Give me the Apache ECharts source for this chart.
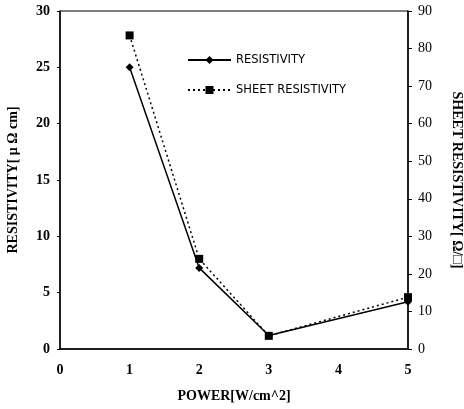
<!DOCTYPE html>
<html>
<head>
<meta charset="utf-8">
<script src="https://cdn.jsdelivr.net/npm/echarts@6/dist/echarts.min.js"></script>
<style>
  html, body { margin: 0; padding: 0; background: #fff; }
  #chart { width: 464px; height: 409px; }
</style>
</head>
<body>
<div id="chart"></div>
<script>
  // 数据
  var powers = [1, 2, 3, 5];
  var resistivity = [25.0, 7.2, 1.2, 4.2];
  var sheetResistivity = [83.5, 24.0, 3.5, 13.8];

  var leftTicks = [0, 5, 10, 15, 20, 25, 30];
  var rightTicks = [0, 10, 20, 30, 40, 50, 60, 70, 80, 90];

  var fontFam = '"Liberation Serif", "DejaVu Serif", serif';

  function pairs(xs, ys) {
    return xs.map(function (x, i) { return [x, ys[i]]; });
  }

  var chart = echarts.init(document.getElementById('chart'));
  chart.setOption({
    animation: false,
    backgroundColor: '#fff',
    grid: {
      left: 60,
      right: 56,
      top: 11,
      bottom: 60,
      outerBoundsMode: 'none',
      show: true,
      borderColor: '#000',
      borderWidth: 1
    },
    legend: {
      left: 187,
      top: 54,
      padding: 0,
      orient: 'vertical',
      itemWidth: 43,
      itemHeight: 10,
      itemGap: 18,
      textStyle: {
        color: '#000',
        fontFamily: '"DejaVu Sans", sans-serif',
        fontSize: 11.5
      },
      data: ['RESISTIVITY', 'SHEET RESISTIVITY']
    },
    xAxis: {
      type: 'value',
      min: 0,
      max: 5,
      interval: 1,
      name: 'POWER[W/cm^2]',
      nameLocation: 'middle',
      nameGap: 40,
      nameTextStyle: { color: '#000', fontFamily: fontFam, fontSize: 14, fontWeight: 'bold' },
      axisLine: { lineStyle: { color: '#000', width: 1.5 } },
      axisTick: { show: false },
      splitLine: { show: false },
      axisLabel: { color: '#000', fontFamily: fontFam, fontSize: 14, fontWeight: 'bold', margin: 14 }
    },
    yAxis: [{
      type: 'value',
      min: leftTicks[0],
      max: leftTicks[leftTicks.length - 1],
      interval: 5,
      name: 'RESISTIVITY[ μ Ω cm]',
      nameLocation: 'middle',
      nameGap: 40,
      nameRotate: 90,
      nameTextStyle: { color: '#000', fontFamily: fontFam, fontSize: 14, fontWeight: 'bold' },
      axisLine: { show: true, lineStyle: { color: '#000', width: 1.5 } },
      axisTick: { show: true, length: 3, lineStyle: { color: '#000' } },
      splitLine: { show: false },
      axisLabel: { color: '#000', fontFamily: fontFam, fontSize: 14, fontWeight: 'bold', margin: 10 }
    }, {
      type: 'value',
      min: rightTicks[0],
      max: rightTicks[rightTicks.length - 1],
      interval: 10,
      position: 'right',
      name: 'SHEET RESISTIVITY[ Ω/□]',
      nameLocation: 'middle',
      nameGap: 42,
      nameRotate: -90,
      nameTextStyle: { color: '#000', fontFamily: fontFam, fontSize: 14, fontWeight: 'bold' },
      axisLine: { show: true, lineStyle: { color: '#000', width: 1.5 } },
      axisTick: { show: true, length: 4, lineStyle: { color: '#000' } },
      splitLine: { show: false },
      axisLabel: { color: '#000', fontFamily: fontFam, fontSize: 14, margin: 10 }
    }],
    series: [{
      name: 'RESISTIVITY',
      type: 'line',
      yAxisIndex: 0,
      symbol: 'diamond',
      symbolSize: 8,
      itemStyle: { color: '#000' },
      lineStyle: { color: '#000', width: 1.5 },
      data: pairs(powers, resistivity)
    }, {
      name: 'SHEET RESISTIVITY',
      type: 'line',
      yAxisIndex: 1,
      symbol: 'rect',
      symbolSize: 8,
      itemStyle: { color: '#000' },
      lineStyle: { color: '#000', width: 1.5, type: [2, 3] },
      data: pairs(powers, sheetResistivity)
    }]
  });
</script>
</body>
</html>
